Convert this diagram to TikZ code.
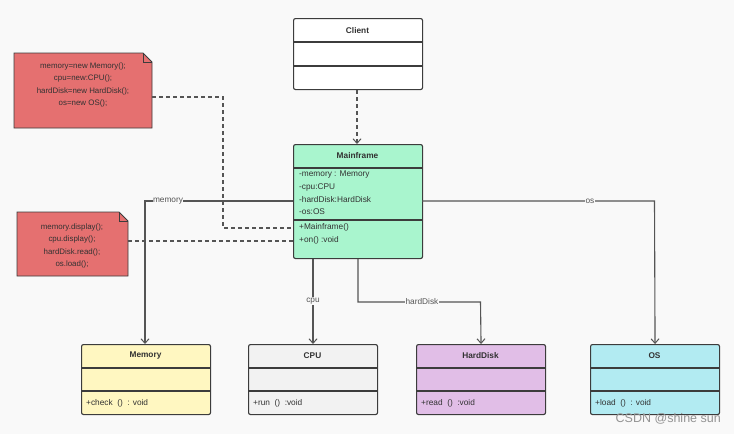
\documentclass[tikz,border=0pt]{standalone}
\usepackage{fontspec}
\setmainfont{Liberation Sans}
\usetikzlibrary{arrows.meta,calc}
\definecolor{bgc}{RGB}{249,249,249}
\definecolor{linec}{RGB}{85,85,85}
\definecolor{borderc}{RGB}{60,60,60}
\definecolor{txtc}{RGB}{50,50,50}
\definecolor{notec}{RGB}{229,112,112}
\definecolor{mainc}{RGB}{169,245,206}
\definecolor{memc}{RGB}{255,247,193}
\definecolor{cpuc}{RGB}{242,242,242}
\definecolor{hdc}{RGB}{225,190,231}
\definecolor{osc}{RGB}{178,235,242}
\tikzset{
  classbox/.style={draw=borderc, line width=1.1pt, rounded corners=2pt, rectangle, anchor=north west, inner sep=0pt, minimum width=129pt},
  sepline/.style={draw=borderc, line width=1.1pt},
  ttl/.style={font=\fontsize{8.3}{10}\selectfont\bfseries, text=txtc, inner sep=0pt},
  mem/.style={font=\fontsize{8.3}{10}\selectfont, text=txtc, inner sep=0pt, anchor=west},
  notebox/.style={fill=notec, draw=borderc, line width=0.9pt},
  notetxt/.style={font=\fontsize{7.9}{12.4}\selectfont, text=txtc, align=center, inner sep=0pt},
  assoc/.style={draw=linec, line width=1.1pt, -{Straight Barb[length=4.5pt,width=8pt,line width=1pt]}},
  dep/.style={draw=linec, line width=1.1pt, dash pattern=on 4pt off 3pt},
  lbl/.style={font=\fontsize{8.3}{10}\selectfont, text=linec, fill=bgc, inner sep=0.5pt}
}
\begin{document}
\begin{tikzpicture}[x=1pt,y=-1pt]
\fill[bgc] (0,0) rectangle (734,434);
\useasboundingbox (0,0) rectangle (734,434);

% Client
\node[classbox, fill=white, minimum height=71pt] (client) at (293,18) {};
\draw[sepline] (293,42) -- (422,42);
\draw[sepline] (293,66) -- (422,66);
\node[ttl] (clientT) at (357.5,31) {Client};

% Mainframe
\node[classbox, fill=mainc, minimum height=114pt] (mf) at (293,144) {};
\draw[sepline] (293,168) -- (422,168);
\draw[sepline] (293,220) -- (422,220);
\node[ttl] (mfT) at (357.5,156) {Mainframe};
\node[mem] (mfa1) at (299,175) {-memory : Memory};
\node[mem] (mfa2) at (299,187) {-cpu:CPU};
\node[mem] (mfa3) at (299,200) {-hardDisk:HardDisk};
\node[mem] (mfa4) at (299,212) {-os:OS};
\node[mem] (mfm1) at (299,227) {+Mainframe()};
\node[mem] (mfm2) at (299,240) {+on() :void};

% Bottom classes
\node[classbox, fill=memc, minimum height=70pt] (memory) at (81,344) {};
\node[classbox, fill=cpuc, minimum height=70pt] (cpu) at (248,344) {};
\node[classbox, fill=hdc, minimum height=70pt] (hd) at (416,344) {};
\node[classbox, fill=osc, minimum height=70pt] (os) at (590,344) {};
\foreach \x in {81,248,416,590}{
  \draw[sepline] (\x,368) -- ({\x+129},368);
  \draw[sepline] (\x,391) -- ({\x+129},391);
}
\node[ttl] (memoryT) at (145.5,356) {Memory};
\node[ttl] (cpuT) at (312.5,356) {CPU};
\node[ttl] (hdT) at (480.5,356) {HardDisk};
\node[ttl] (osT) at (654.5,356) {OS};
\node[mem] (memoryM) at (86,403) {+check\ \ ()\ \ : void};
\node[mem] (cpuM) at (253,403) {+run\ \ ()\ \ :void};
\node[mem] (hdM) at (421,403) {+read\ \ ()\ \ :void};
\node[mem] (osM) at (595,403) {+load\ \ ()\ \ : void};

% Notes
\draw[notebox] (14,53) -- (143,53) -- (152,62) -- (152,128) -- (14,128) -- cycle;
\draw[borderc, line width=0.9pt] (143,53) -- (143,62) -- (152,62);
\node[notetxt] (note1) at (83,85) {memory=new Memory();\\cpu=new:CPU();\\hardDisk=new HardDisk();\\os=new OS();};
\coordinate (n1) at (152,97);
\draw[notebox] (17,212) -- (119,212) -- (128,221) -- (128,276) -- (17,276) -- cycle;
\draw[borderc, line width=0.9pt] (119,212) -- (119,221) -- (128,221);
\node[notetxt] (note2) at (72,246) {memory.display();\\cpu.display();\\hardDisk.read();\\os.load();};
\coordinate (n2) at (128,241);

% Connectors
\draw[dep, -{Straight Barb[length=4.5pt,width=8pt,line width=1pt]}] (client.south -| 357,0) -- (mf.north -| 357,0);
\draw[dep] (n1) -- (223,97) -- (223,228) -- (293,228);
\draw[dep] (n2) -- (293,241);

\draw[assoc] (293,201) -- (145,201) -- (memory.north -| 145,0);
\node[lbl] at (168,201) {memory};
\draw[assoc] (422,201) -- (654.5,201) -- (os.north);
\node[lbl] at (590,201) {os};
\draw[assoc] (mf.south -| 313,0) -- (cpu.north -| 313,0);
\node[lbl] at (313,301) {cpu};
\draw[assoc] (mf.south -| 358,0) -- (358,302) -- (480.5,302) -- (hd.north);
\node[lbl] at (422,302) {hardDisk};

% Watermark
\node[font=\fontsize{12.5}{14}\selectfont, text=gray!85, anchor=east, inner sep=0pt] (wm) at (721,419) {CSDN @shine sun};
\end{tikzpicture}
\end{document}
